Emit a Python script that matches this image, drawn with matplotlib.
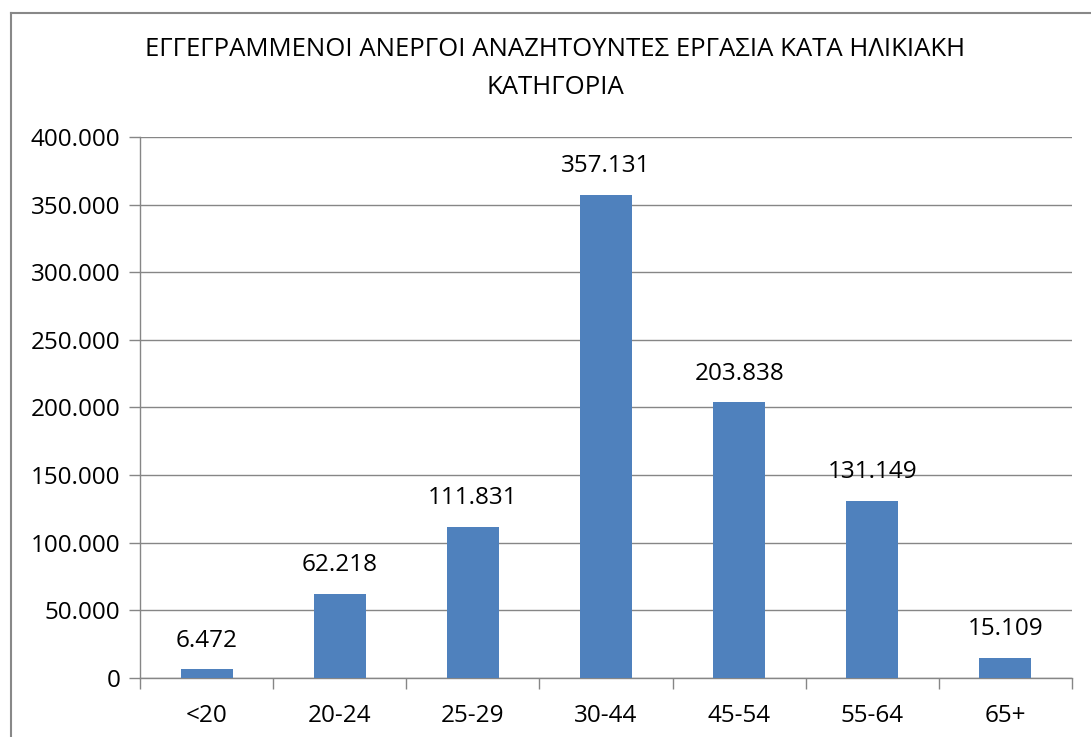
import matplotlib
matplotlib.use("Agg")
import matplotlib.pyplot as plt
from matplotlib.lines import Line2D
from matplotlib.ticker import FuncFormatter, MultipleLocator

categories = ["<20", "20-24", "25-29", "30-44", "45-54", "55-64", "65+"]
values = [6472, 62218, 111831, 357131, 203838, 131149, 15109]
title_lines = ["ΕΓΓΕΓΡΑΜΜΕΝΟΙ ΑΝΕΡΓΟΙ ΑΝΑΖΗΤΟΥΝΤΕΣ ΕΡΓΑΣΙΑ ΚΑΤΑ ΗΛΙΚΙΑΚΗ", "ΚΑΤΗΓΟΡΙΑ"]

plt.rcParams['font.family'] = ['Open Sans', 'DejaVu Sans']

W, H = 1091, 737
fig = plt.figure(figsize=(W / 100, H / 100), dpi=100)

def fmt(v):
    return f"{int(round(v)):,}".replace(",", ".")

FS = 17.5
ax = fig.add_axes([140 / W, (H - 678) / H, (1072 - 140) / W, (678 - 137) / H])
x = list(range(len(categories)))
bars = ax.bar(x, values, width=0.39, color="#4F81BD", zorder=3)
ax.set_xlim(-0.5, len(categories) - 0.5)
ax.set_ylim(0, 400000)
ax.yaxis.set_major_locator(MultipleLocator(50000))
ax.yaxis.set_major_formatter(FuncFormatter(lambda v, p: fmt(v)))
ax.grid(axis="y", color="#868686", linewidth=1.0, zorder=0)
ax.set_xticks([i + 0.5 for i in range(len(categories) - 1)] + [-0.5, len(categories) - 0.5])
ax.set_xticklabels([])
ax.set_xticks(x, minor=True)
ax.set_xticklabels(categories, minor=True)
ax.tick_params(axis="x", which="major", length=8, color="#868686", width=1)
ax.tick_params(axis="x", which="minor", length=0, pad=19, labelsize=FS)
ax.tick_params(axis="y", length=8, color="#868686", width=1, pad=6, labelsize=FS)
for s in ["top", "right"]:
    ax.spines[s].set_visible(False)
for s in ["left", "bottom"]:
    ax.spines[s].set_color("#868686")
    ax.spines[s].set_linewidth(1)

for b, v in zip(bars, values):
    ax.annotate(fmt(v), (b.get_x() + b.get_width() / 2, v), xytext=(0, 12),
                textcoords="offset points", ha="center", va="bottom", fontsize=FS)

fig.text(555 / W, 1 - 50 / H, title_lines[0], ha="center", va="center", fontsize=18.5)
fig.text(555 / W, 1 - 88 / H, title_lines[1], ha="center", va="center", fontsize=18.5)

# chart frame
fig.add_artist(Line2D([11 / W, 11 / W], [0, 1 - 13 / H], transform=fig.transFigure,
                      color="#888888", linewidth=1.5))
fig.add_artist(Line2D([11 / W, 1], [1 - 13 / H, 1 - 13 / H], transform=fig.transFigure,
                      color="#888888", linewidth=1.5))

fig.savefig("out.png", dpi=100, facecolor="white")
